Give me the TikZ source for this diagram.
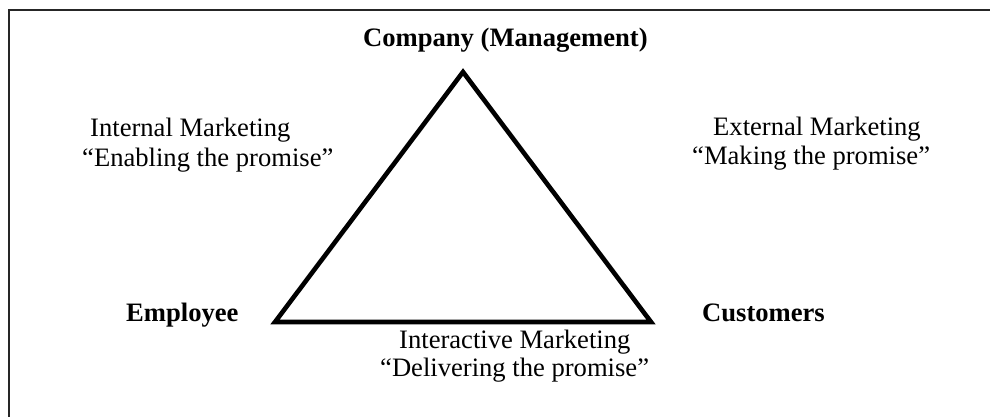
\documentclass[tikz,border=0pt]{standalone}
\usepackage{fontspec}
\setmainfont{Liberation Serif}
\usepackage{tikz}

\begin{document}
\begin{tikzpicture}[
        x=1pt, y=1pt,
        % Styles des textes
        lbl/.style={inner sep=0pt, anchor=base west, font=\fontsize{26.6}{30}\selectfont},
        party/.style={lbl, font=\fontsize{26.6}{30}\selectfont\bfseries},
        % Styles des traits
        frameline/.style={line width=1.7pt, color=black!85},
        edgeline/.style={line width=4.6pt, line join=miter}
    ]

    \useasboundingbox (0,0) rectangle (990,417);

    % Cadre (seuls les bords haut et gauche sont visibles)
    \draw[frameline] (9,0) -- (9,407) -- (990,407);

    % Sommets du triangle
    \coordinate (apex) at (463,345);
    \coordinate (empcorner) at (275,95);
    \coordinate (cuscorner) at (651,95);
    \draw[edgeline] (apex) -- (empcorner) -- (cuscorner) -- cycle;

    % Acteurs
    \node[party] (company) at (363,370) {Company (Management)};
    \node[party] (employee) at (126,95) {Employee};
    \node[party] (customers) at (702,95) {Customers};

    % Marketing interne
    \node[lbl] (intname) at (90,280) {Internal Marketing};
    \node[lbl] (intslogan) at (82,250) {“Enabling the promise”};

    % Marketing externe
    \node[lbl] (extname) at (713,281) {External Marketing};
    \node[lbl] (extslogan) at (692,252) {“Making the promise”};

    % Marketing interactif
    \node[lbl] (iacname) at (399,68) {Interactive Marketing};
    \node[lbl] (iacslogan) at (380,40) {“Delivering the promise”};

\end{tikzpicture}
\end{document}
